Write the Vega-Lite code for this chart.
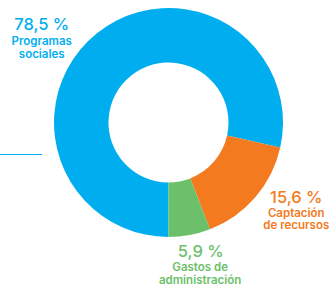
{
  "$schema": "https://vega.github.io/schema/vega-lite/v6.json",
  "width": 323,
  "height": 245,
  "autosize": "none",
  "padding": {"left": 7, "top": 0, "right": 0, "bottom": 42},
  "background": "white",
  "config": {"view": {"stroke": null}, "font": "Inter"},
  "data": {"values": [
    {"cat": "Programas sociales", "value": 78.5, "pct": "78,5 %", "desc": "Programas\nsociales", "order": 1},
    {"cat": "Captación de recursos", "value": 15.6, "pct": "15,6 %", "desc": "Captación\nde recursos", "order": 2},
    {"cat": "Gastos de administración", "value": 5.9, "pct": "5,9 %", "desc": "Gastos de\nadministración", "order": 3}
  ]},
  "layer": [
    {
      "mark": {"type": "arc", "innerRadius": 60, "outerRadius": 114.5},
      "encoding": {
        "theta": {"field": "value", "type": "quantitative", "stack": true, "scale": {"range": [3.14159265, 9.42477796]}},
        "order": {"field": "order", "type": "quantitative"},
        "color": {"field": "cat", "type": "nominal", "legend": null, "scale": {"domain": ["Programas sociales", "Captación de recursos", "Gastos de administración"], "range": ["#00AEEF", "#F47A20", "#6CC06A"]}}
      }
    },
    {
      "mark": {"type": "text", "radius": 150, "fontSize": 16.5, "fontWeight": 500, "align": "center", "baseline": "alphabetic",
        "dx": {"expr": "datum.order == 1 ? -33 : datum.order == 2 ? 14 : 4.5"},
        "dy": {"expr": "datum.order == 1 ? 25 : datum.order == 2 ? -17.5 : -13"}},
      "encoding": {
        "theta": {"field": "value", "type": "quantitative", "stack": true},
        "order": {"field": "order", "type": "quantitative"},
        "text": {"field": "pct"},
        "color": {"field": "cat", "type": "nominal", "legend": null}
      }
    },
    {
      "mark": {"type": "text", "radius": 150, "fontSize": 11.5, "fontWeight": 600, "align": "center", "baseline": "alphabetic", "lineBreak": "\n", "lineHeight": 12.6,
        "dx": {"expr": "datum.order == 1 ? -33 : datum.order == 2 ? 14 : 4"},
        "dy": {"expr": "datum.order == 1 ? 39.5 : datum.order == 2 ? -3.5 : 1.5"}},
      "encoding": {
        "theta": {"field": "value", "type": "quantitative", "stack": true},
        "order": {"field": "order", "type": "quantitative"},
        "text": {"field": "desc"},
        "color": {"field": "cat", "type": "nominal", "legend": null}
      }
    },
    {
      "data": {"values": [{}]},
      "mark": {"type": "rule", "color": "#00AEEF", "strokeWidth": 1.2},
      "encoding": {"x": {"value": -7}, "x2": {"value": 35}, "y": {"value": 154.5}}
    }
  ]
}
